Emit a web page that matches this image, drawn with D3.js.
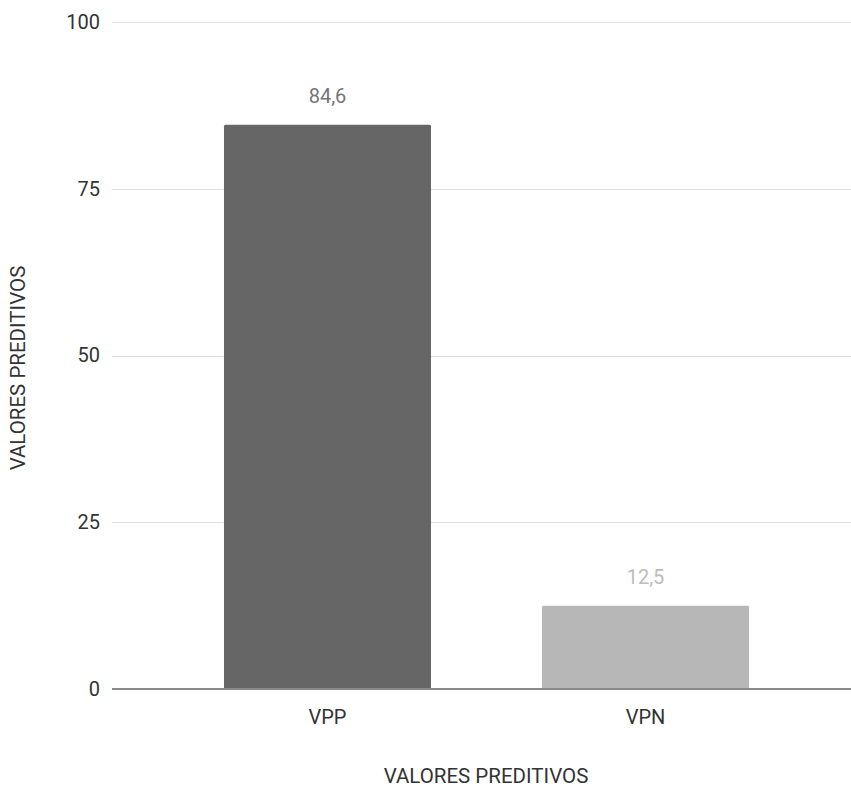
<!DOCTYPE html>
<html>
<head>
<meta charset="utf-8">
<script src="https://cdn.jsdelivr.net/npm/d3@7"></script>
<style>
  html, body { margin: 0; padding: 0; background: #fff; }
  svg { display: block; font-family: Roboto, "Noto Sans", sans-serif; }
</style>
</head>
<body>
<svg id="chart" width="851" height="790"></svg>
<script>
// Predictive values (%)
const categories = ["VPP", "VPN"];
const values = [84.6, 12.5];
const valueLabels = ["84,6", "12,5"];
const barColors = ["#666666", "#b7b7b7"];
const labelColors = ["#757575", "#bdbdbd"];
const yTicks = [0, 25, 50, 75, 100];

const svg = d3.select("#chart");
const W = 851, H = 790;
const plotLeft = 112, plotRight = 851, plotTop = 22, plotBottom = 689;

const x = d3.scaleBand()
  .domain(categories)
  .range([122, plotRight])
  .paddingInner(0.349)
  .paddingOuter(0.3207);

const y = d3.scaleLinear()
  .domain([0, 100])
  .range([plotBottom, plotTop]);

const fs = 20;

// gridlines
svg.append("g")
  .selectAll("line")
  .data(yTicks.filter(d => d !== 0))
  .join("line")
  .attr("x1", plotLeft)
  .attr("x2", plotRight)
  .attr("y1", d => Math.round(y(d)) + 0.5)
  .attr("y2", d => Math.round(y(d)) + 0.5)
  .attr("stroke", "#e0e0e0")
  .attr("stroke-width", 1);

// y-axis labels
const yAxis = d3.axisLeft(y).tickValues(yTicks).tickSize(0).tickPadding(12);
const gy = svg.append("g")
  .attr("transform", `translate(${plotLeft},0)`)
  .call(yAxis);
gy.select(".domain").remove();
gy.selectAll("text")
  .attr("font-size", fs)
  .attr("font-family", "Roboto, sans-serif")
  .attr("fill", "#333");

// bars
svg.append("g")
  .selectAll("rect")
  .data(categories)
  .join("rect")
  .attr("x", d => x(d))
  .attr("width", x.bandwidth())
  .attr("y", (d, i) => y(values[i]))
  .attr("height", (d, i) => y(0) - y(values[i]))
  .attr("rx", 1.5)
  .attr("fill", (d, i) => barColors[i]);

// value labels
svg.append("g")
  .selectAll("text")
  .data(categories)
  .join("text")
  .attr("x", d => x(d) + x.bandwidth() / 2)
  .attr("y", (d, i) => y(values[i]) - 22)
  .attr("text-anchor", "middle")
  .attr("font-size", fs)
  .attr("fill", (d, i) => labelColors[i])
  .text((d, i) => valueLabels[i]);

// baseline
svg.append("line")
  .attr("x1", plotLeft)
  .attr("x2", plotRight)
  .attr("y1", y(0))
  .attr("y2", y(0))
  .attr("stroke", "#8a8a8a")
  .attr("stroke-width", 2);

// x-axis labels
const xAxis = d3.axisBottom(x).tickSize(0).tickPadding(21);
const gx = svg.append("g")
  .attr("transform", `translate(0,${y(0)})`)
  .call(xAxis);
gx.select(".domain").remove();
gx.selectAll("text")
  .attr("font-size", fs)
  .attr("font-family", "Roboto, sans-serif")
  .attr("fill", "#333");

// axis titles
svg.append("text")
  .attr("x", 486)
  .attr("y", 783)
  .attr("text-anchor", "middle")
  .attr("font-size", 20.5)
  .attr("fill", "#333")
  .text("VALORES PREDITIVOS");

svg.append("text")
  .attr("transform", "translate(25,368) rotate(-90)")
  .attr("text-anchor", "middle")
  .attr("font-size", 20.5)
  .attr("fill", "#333")
  .text("VALORES PREDITIVOS");
</script>
</body>
</html>
